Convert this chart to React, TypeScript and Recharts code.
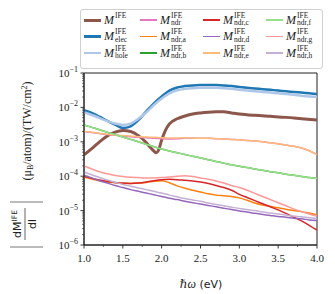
import React from 'react';
import { LineChart, Line, XAxis, YAxis, Legend, ReferenceArea } from 'recharts';

// photon energy grid (eV)
const energy = [
  1.0, 1.1, 1.2, 1.3, 1.4, 1.5, 1.6, 1.7, 1.8, 1.9, 2.0, 2.1, 2.2, 2.3, 2.4, 2.5,
  2.6, 2.7, 2.8, 2.9, 3.0, 3.1, 3.2, 3.3, 3.4, 3.5, 3.6, 3.7, 3.8, 3.9, 4.0,
];

// all values below are log10 of |dM/dI|
const elec = [
  -2.08, -2.16, -2.27, -2.39, -2.5, -2.6, -2.55, -2.37, -2.12, -1.88, -1.68, -1.51, -1.42, -1.38, -1.36, -1.35,
  -1.35, -1.35, -1.36, -1.38, -1.41, -1.43, -1.45, -1.47, -1.49, -1.51, -1.53, -1.55, -1.57, -1.59, -1.61,
];
const hole = [
  -2.15, -2.22, -2.31, -2.4, -2.47, -2.51, -2.47, -2.33, -2.15, -1.93, -1.74, -1.59, -1.5, -1.46, -1.44, -1.43,
  -1.43, -1.43, -1.44, -1.46, -1.49, -1.51, -1.53, -1.55, -1.57, -1.59, -1.61, -1.63, -1.66, -1.68, -1.7,
];
const ndr = [
  -2.7, -2.73, -2.76, -2.79, -2.81, -2.83, -2.85, -2.87, -2.88, -2.9, -2.91, -2.92, -2.91, -2.89, -2.89, -2.9,
  -2.9, -2.91, -2.92, -2.93, -2.94, -2.96, -2.98, -3.0, -3.03, -3.06, -3.09, -3.13, -3.18, -3.26, -3.37,
];
const ndrA = [
  -4.02, -4.08, -4.13, -4.17, -4.19, -4.21, -4.21, -4.2, -4.18, -4.15, -4.13, -4.19, -4.28, -4.35, -4.41, -4.46,
  -4.51, -4.55, -4.57, -4.59, -4.63, -4.7, -4.78, -4.84, -4.88, -4.92, -4.96, -5.0, -5.03, -5.07, -5.12,
];
const ndrB = [
  -2.51, -2.58, -2.65, -2.72, -2.79, -2.86, -2.93, -3.0, -3.07, -3.14, -3.21, -3.27, -3.32, -3.37, -3.42, -3.47,
  -3.52, -3.57, -3.62, -3.67, -3.71, -3.75, -3.79, -3.83, -3.87, -3.9, -3.94, -3.97, -4.01, -4.04, -4.07,
];
const ndrC = [
  -4.0, -4.06, -4.11, -4.15, -4.18, -4.2, -4.21, -4.2, -4.17, -4.13, -4.1, -4.09, -4.1, -4.12, -4.14, -4.17,
  -4.21, -4.27, -4.33, -4.41, -4.53, -4.62, -4.71, -4.8, -4.89, -4.98, -5.08, -5.19, -5.3, -5.43, -5.57,
];
const ndrD = [
  -3.97, -4.05, -4.13, -4.2, -4.27, -4.33, -4.39, -4.44, -4.49, -4.54, -4.59, -4.64, -4.68, -4.73, -4.77, -4.81,
  -4.85, -4.89, -4.93, -4.97, -5.01, -5.04, -5.08, -5.11, -5.14, -5.17, -5.19, -5.22, -5.24, -5.27, -5.29,
];
const ndrE = [
  -2.69, -2.72, -2.75, -2.78, -2.8, -2.82, -2.83, -2.85, -2.86, -2.87, -2.88, -2.89, -2.89, -2.88, -2.89, -2.9,
  -2.9, -2.91, -2.92, -2.93, -2.94, -2.96, -2.98, -3.0, -3.03, -3.06, -3.09, -3.13, -3.18, -3.26, -3.37,
];
const ndrF = [
  -2.51, -2.58, -2.65, -2.72, -2.79, -2.86, -2.93, -3.0, -3.07, -3.14, -3.21, -3.27, -3.32, -3.37, -3.42, -3.47,
  -3.52, -3.57, -3.62, -3.67, -3.71, -3.75, -3.79, -3.83, -3.87, -3.9, -3.94, -3.97, -4.01, -4.04, -4.07,
];
const ndrG = [
  -3.7, -3.79, -3.87, -3.93, -3.98, -4.01, -4.03, -4.04, -4.05, -4.05, -4.04, -4.02, -4.0, -3.99, -4.01, -4.05,
  -4.09, -4.14, -4.2, -4.27, -4.33, -4.41, -4.5, -4.59, -4.68, -4.77, -4.86, -4.95, -5.03, -5.1, -5.16,
];
const ndrH = [
  -3.88, -3.96, -4.04, -4.11, -4.18, -4.24, -4.29, -4.34, -4.39, -4.44, -4.49, -4.55, -4.6, -4.65, -4.69, -4.73,
  -4.78, -4.82, -4.86, -4.9, -4.94, -4.97, -5.0, -5.04, -5.07, -5.1, -5.13, -5.16, -5.18, -5.21, -5.23,
];

// total M^IFE has a sharp dip near 1.93 eV, so it gets a finer grid there
const totalEnergy = [
  1.0, 1.1, 1.2, 1.3, 1.4, 1.5, 1.6, 1.7, 1.8, 1.85, 1.9, 1.93, 1.96, 2.0, 2.05,
  2.1, 2.2, 2.3, 2.4, 2.5, 2.6, 2.7, 2.8, 2.9, 3.0, 3.2, 3.4, 3.6, 3.8, 4.0,
];
const total = [
  -3.38, -3.2, -3.0, -2.83, -2.72, -2.67, -2.7, -2.82, -3.02, -3.15, -3.27, -3.32, -3.24, -2.95, -2.66,
  -2.48, -2.33, -2.25, -2.19, -2.16, -2.14, -2.13, -2.13, -2.16, -2.19, -2.23, -2.26, -2.29, -2.33, -2.37,
];

const seriesKeys = ['total', 'elec', 'hole', 'ndr', 'ndrA', 'ndrB', 'ndrC', 'ndrD', 'ndrE', 'ndrF', 'ndrG', 'ndrH'];
const seriesSubs = ['', 'elec', 'hole', 'ndr', 'ndr,a', 'ndr,b', 'ndr,c', 'ndr,d', 'ndr,e', 'ndr,f', 'ndr,g', 'ndr,h'];
const seriesColors = [
  '#8c564b', '#1f77b4', '#aec7e8', '#e377c2', '#ff7f0e', '#2ca02c',
  '#d62728', '#9467bd', '#ffbb78', '#98df8a', '#ff9896', '#c5b0d5',
];
const seriesWidths = [3, 2.5, 2.5, 1.5, 1.5, 1.5, 1.5, 1.5, 1.5, 1.5, 1.5, 1.5];

const yMajor = [-6, -5, -4, -3, -2, -1];
const xMajor = [1.0, 1.5, 2.0, 2.5, 3.0, 3.5, 4.0];
const xMinor = [1.25, 1.75, 2.25, 2.75, 3.25, 3.75];

const table = energy.map((e, i) => ({
  e,
  elec: elec[i],
  hole: hole[i],
  ndr: ndr[i],
  ndrA: ndrA[i],
  ndrB: ndrB[i],
  ndrC: ndrC[i],
  ndrD: ndrD[i],
  ndrE: ndrE[i],
  ndrF: ndrF[i],
  ndrG: ndrG[i],
  ndrH: ndrH[i],
}));
const totalTable = totalEnergy.map((e, i) => ({ e, total: total[i] }));

// minor ticks of the log axis: k * 10^n
const yMinor: number[] = [];
yMajor.slice(0, -1).forEach((n) => {
  for (let k = 2; k <= 9; k++) yMinor.push(n + Math.log10(k));
});

const SERIF = "'Liberation Serif', 'DejaVu Serif', serif";
const SANS = "'DejaVu Sans', sans-serif";

function YTick(props: any) {
  const { x, y, payload } = props;
  const major = yMajor.includes(payload.value);
  return (
    <g>
      <line x1={x - (major ? 3.5 : 2)} x2={x} y1={y} y2={y} stroke="#222" strokeWidth={major ? 0.9 : 0.6} />
      {major && (
        <text x={x - 6} y={y + 4} textAnchor="end" fontFamily={SERIF} fontSize={11} fill="#222">
          10
          <tspan dy={-5} fontSize={8}>
            {'\u2212' + -payload.value}
          </tspan>
        </text>
      )}
    </g>
  );
}

function XTick(props: any) {
  const { x, y, payload } = props;
  const major = xMajor.includes(payload.value);
  return (
    <g>
      <line x1={x} x2={x} y1={y} y2={y + (major ? 3.5 : 2)} stroke="#222" strokeWidth={major ? 0.9 : 0.6} />
      {major && (
        <text x={x} y={y + 17} textAnchor="middle" fontFamily={SERIF} fontSize={11} fill="#222">
          {payload.value.toFixed(1)}
        </text>
      )}
    </g>
  );
}

function YTitle() {
  return (
    <g fill="#222">
      <text transform="translate(31, 131) rotate(-90)" textAnchor="middle" fontFamily={SERIF} fontSize={12}>
        (μ<tspan dy={2} fontSize={8}>B</tspan>
        <tspan dy={-2}>/atom)/(TW/cm</tspan>
        <tspan dy={-4} fontSize={8}>2</tspan>
        <tspan dy={4}>)</tspan>
      </text>
      <g transform="translate(0, 224) rotate(-90)">
        <text x={0} y={21} textAnchor="middle" fontFamily={SANS} fontSize={11}>
          dM<tspan dy={-4} fontSize={7.5}>IFE</tspan>
        </text>
        <line x1={-16} x2={16} y1={25} y2={25} stroke="#222" strokeWidth={0.7} />
        <text x={0} y={36} textAnchor="middle" fontFamily={SANS} fontSize={11}>
          dI
        </text>
        <line x1={22} x2={22} y1={10} y2={43} stroke="#555" strokeWidth={0.8} />
        <line x1={-23} x2={-23} y1={10} y2={43} stroke="#555" strokeWidth={0.8} />
      </g>
    </g>
  );
}

function XTitle() {
  return (
    <text x={201} y={288} textAnchor="middle" fill="#222" fontSize={12}>
      <tspan fontFamily={SERIF} fontStyle="italic">ℏω</tspan>
      <tspan fontFamily={SANS} fontSize={11}> (eV)</tspan>
    </text>
  );
}

function MLabel({ sub }: { sub: string }) {
  return (
    <span style={{ display: 'inline-flex', alignItems: 'center', fontFamily: SERIF, color: '#222' }}>
      <span style={{ fontStyle: 'italic', fontSize: 12 }}>M</span>
      <span
        style={{
          display: 'inline-flex',
          flexDirection: 'column',
          fontSize: 7.5,
          lineHeight: '7.5px',
          marginLeft: 1,
          marginTop: -2,
        }}
      >
        <span>IFE</span>
        <span>{sub || '\u00a0'}</span>
      </span>
    </span>
  );
}

const colLeft = [3, 59, 122, 185];

function LegendBox() {
  return (
    <div
      style={{
        position: 'relative',
        width: 243,
        height: 60,
        boxSizing: 'border-box',
        border: '1px solid #d0d0d0',
        borderRadius: 3,
        background: 'rgba(255,255,255,0.85)',
      }}
    >
      {seriesKeys.map((k, i) => {
        const col = Math.floor(i / 3);
        const row = i % 3;
        return (
          <div
            key={k}
            style={{
              position: 'absolute',
              left: colLeft[col],
              top: 2 + row * 16.5,
              height: 16,
              display: 'flex',
              alignItems: 'center',
            }}
          >
            <span
              style={{
                display: 'inline-block',
                width: 17,
                height: seriesWidths[i],
                background: seriesColors[i],
                marginRight: 3,
              }}
            />
            <MLabel sub={seriesSubs[i]} />
          </div>
        );
      })}
    </div>
  );
}

export default function App() {
  return (
    <div style={{ position: 'absolute', left: 0, top: 0, width: 335, height: 294, background: '#fff' }}>
      <LineChart width={335} height={294} data={table} margin={{ top: 73, right: 18, bottom: 0, left: 0 }}>
        <XAxis
          dataKey="e"
          type="number"
          domain={[1, 4]}
          ticks={[...xMajor, ...xMinor]}
          interval={0}
          tickSize={0}
          tickMargin={0}
          tickLine={false}
          tick={<XTick />}
          axisLine={{ stroke: '#222' }}
          height={49}
          allowDataOverflow
          label={<XTitle />}
        />
        <YAxis
          type="number"
          domain={[-6, -1]}
          ticks={[...yMajor, ...yMinor]}
          interval={0}
          tickSize={0}
          tickMargin={0}
          tickLine={false}
          tick={<YTick />}
          axisLine={{ stroke: '#222' }}
          width={84}
          allowDataOverflow
          label={<YTitle />}
        />
        <Legend
          verticalAlign="middle"
          align="center"
          content={<LegendBox />}
          wrapperStyle={{ left: 80, top: 9, width: 243, height: 60 }}
        />
        <Line
          data={totalTable}
          dataKey="total"
          type="monotone"
          stroke={seriesColors[0]}
          strokeWidth={seriesWidths[0]}
          dot={false}
          isAnimationActive={false}
        />
        {seriesKeys.slice(1).map((k, j) => (
          <Line
            key={k}
            dataKey={k}
            type="monotone"
            stroke={seriesColors[j + 1]}
            strokeWidth={seriesWidths[j + 1]}
            dot={false}
            isAnimationActive={false}
          />
        ))}
        <ReferenceArea x1={1} x2={4} y1={-6} y2={-1} fill="none" stroke="#222" strokeWidth={1} ifOverflow="visible" />
      </LineChart>
    </div>
  );
}
